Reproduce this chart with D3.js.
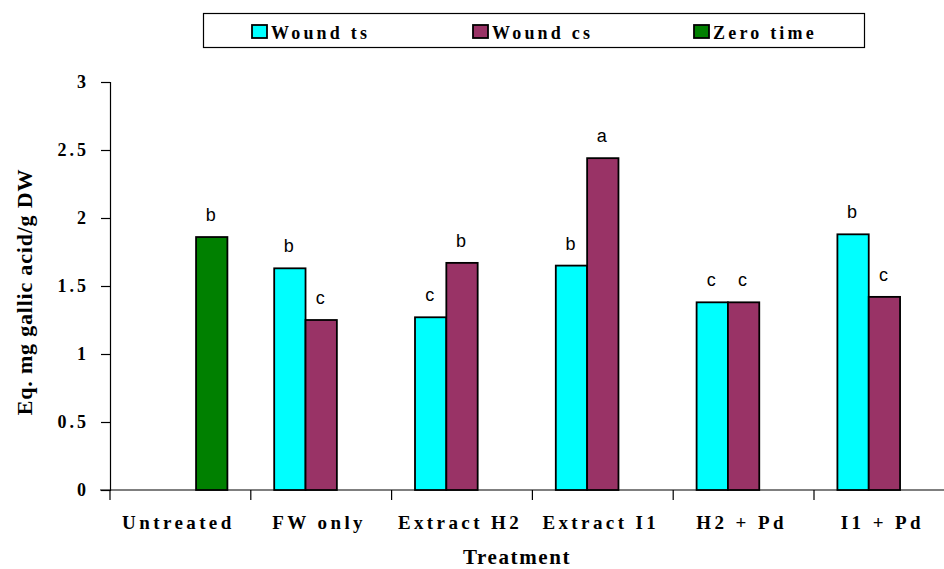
<!DOCTYPE html>
<html><head><meta charset="utf-8">
<script src="https://cdn.jsdelivr.net/npm/d3@7"></script>
<style>body{margin:0;background:#fff}</style>
</head><body>
<svg id="c" width="944" height="569"></svg>
<script>
const categories = ["Untreated","FW only","Extract H2","Extract I1","H2 + Pd","I1 + Pd"];
const series = ["Wound ts","Wound cs","Zero time"];
const woundTs = [null, 1.63, 1.27, 1.65, 1.38, 1.88];
const woundCs = [null, 1.25, 1.67, 2.44, 1.38, 1.42];
const zeroTime = [1.86, null, null, null, null, null];
const lettersTs = ["", "b", "c", "b", "c", "b"];
const lettersCs = ["", "c", "b", "a", "c", "c"];
const lettersZero = ["b", "", "", "", "", ""];
const yTicks = [0, 0.5, 1, 1.5, 2, 2.5, 3];
const colors = ["#00FFFF", "#993366", "#008000"];

(function () {
const values = [woundTs, woundCs, zeroTime];
const letters = [lettersTs, lettersCs, lettersZero];

const svg = d3.select("#c");
const left = 110, bottom = 490, plotTop = 82, step = 140.8;
const x0 = d3.scaleBand().domain(categories).range([left, left + step * categories.length]).paddingInner(0).paddingOuter(0);
const groupW = 94;
const x1 = d3.scaleBand().domain(series).range([(step - groupW) / 2, (step + groupW) / 2]).padding(0);
const y = d3.scaleLinear().domain([0, 3]).range([bottom, plotTop]);

const serif = "'Liberation Serif','Times New Roman',serif";
const sans = "'Liberation Sans',Arial,sans-serif";

// Y axis
const yAxis = svg.append("g").attr("transform", `translate(${left},0)`)
  .call(d3.axisLeft(y).tickValues(yTicks).tickFormat(d => String(d)).tickSize(9).tickPadding(12));
yAxis.select(".domain").attr("stroke", "#000").attr("stroke-width", 1.2);
yAxis.selectAll(".tick line").attr("stroke", "#000").attr("stroke-width", 1.2);
yAxis.selectAll(".tick text").attr("font-family", serif).attr("font-weight", "bold").attr("font-size", 18)
  .attr("fill", "#000").attr("letter-spacing", 3);

// X axis
const xAxisG = svg.append("g").attr("transform", `translate(0,${bottom})`);
xAxisG.append("line").attr("x1", left - 10).attr("x2", 944).attr("y1", 0).attr("y2", 0)
  .attr("stroke", "#000").attr("stroke-width", 1.2);
const bounds = categories.map(c => x0(c)).concat([left + step * categories.length]);
xAxisG.selectAll("line.tk").data(bounds).join("line").attr("class", "tk")
  .attr("x1", d => d).attr("x2", d => d).attr("y1", 0).attr("y2", 10)
  .attr("stroke", "#000").attr("stroke-width", 1.2);
xAxisG.selectAll("text.cat").data(categories).join("text").attr("class", "cat")
  .attr("x", d => x0(d) + step / 2 - 2).attr("y", 39)
  .attr("text-anchor", "middle").attr("font-family", serif).attr("font-weight", "bold")
  .attr("font-size", 19).attr("letter-spacing", 3.4).text(d => d);

svg.append("text").attr("x", 517).attr("y", 564).attr("text-anchor", "middle")
  .attr("font-family", serif).attr("font-weight", "bold").attr("font-size", 21)
  .attr("letter-spacing", 1.6).text("Treatment");

svg.append("text").attr("transform", `translate(32,${292}) rotate(-90)`)
  .attr("text-anchor", "middle").attr("font-family", serif).attr("font-weight", "bold")
  .attr("font-size", 22).attr("letter-spacing", 0.8).text("Eq. mg gallic acid/g DW");

// Bars
const barData = [];
categories.forEach((c, i) => {
  series.forEach((s, j) => {
    const v = values[j][i];
    if (v != null) barData.push({ c, s, v, j, l: letters[j][i] });
  });
});
const g = svg.append("g");
g.selectAll("rect").data(barData).join("rect")
  .attr("x", d => x0(d.c) + x1(d.s)).attr("width", x1.bandwidth())
  .attr("y", d => y(d.v)).attr("height", d => y(0) - y(d.v))
  .attr("fill", d => colors[d.j]).attr("stroke", "#000").attr("stroke-width", 1.8);
g.selectAll("text").data(barData.filter(d => d.l)).join("text")
  .attr("x", d => x0(d.c) + x1(d.s) + x1.bandwidth() / 2 - 1).attr("y", d => y(d.v) - 16)
  .attr("text-anchor", "middle").attr("font-family", sans).attr("font-size", 18).text(d => d.l);

// Legend
const leg = svg.append("g");
leg.append("rect").attr("x", 203.5).attr("y", 13.5).attr("width", 661).attr("height", 34)
  .attr("fill", "#fff").attr("stroke", "#000").attr("stroke-width", 1.2);
const legX = [252, 473, 694];
series.forEach((s, j) => {
  leg.append("rect").attr("x", legX[j]).attr("y", 25).attr("width", 15).attr("height", 13)
    .attr("fill", colors[j]).attr("stroke", "#000").attr("stroke-width", 1.8);
  leg.append("text").attr("x", legX[j] + 19).attr("y", 38.5).attr("font-family", serif)
    .attr("font-weight", "bold").attr("font-size", 18).attr("letter-spacing", 3.2).text(s);
});
})();
</script>
</body></html>
